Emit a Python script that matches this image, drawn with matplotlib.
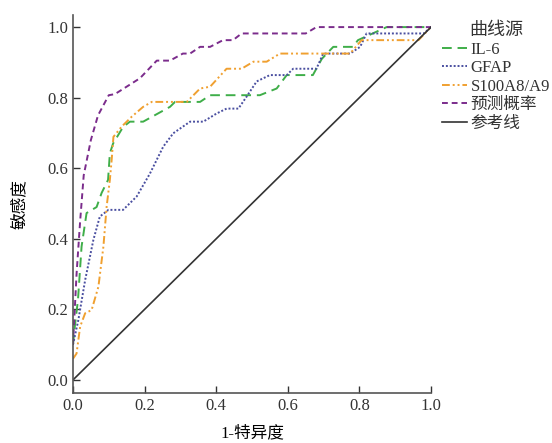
import matplotlib
matplotlib.use("Agg")
import matplotlib.pyplot as plt

plt.rcParams['font.family'] = ['Liberation Serif', 'Noto Sans CJK SC']

# ROC curves
il6_x = [0, 0.005, 0.014, 0.024, 0.038, 0.066, 0.08, 0.098, 0.103, 0.112, 0.14, 0.159, 0.196,
         0.271, 0.285, 0.355, 0.383, 0.522, 0.569, 0.597, 0.67, 0.695, 0.727, 0.782, 0.796,
         0.876, 1.0]
il6_y = [0.1, 0.15, 0.227, 0.378, 0.473, 0.49, 0.53, 0.567, 0.642, 0.67, 0.717, 0.732, 0.732,
         0.774, 0.788, 0.788, 0.807, 0.807, 0.826, 0.864, 0.864, 0.91, 0.944, 0.944, 0.963,
         1.0, 1.0]

gfap_x = [0, 0.015, 0.034, 0.057, 0.075, 0.099, 0.14, 0.178, 0.215, 0.252, 0.28, 0.327, 0.364,
          0.401, 0.429, 0.462, 0.485, 0.513, 0.55, 0.597, 0.615, 0.68, 0.699, 0.774, 0.802,
          0.82, 0.98, 1.0]
gfap_y = [0.1, 0.17, 0.283, 0.397, 0.463, 0.482, 0.482, 0.52, 0.585, 0.661, 0.699, 0.732, 0.732,
          0.755, 0.769, 0.769, 0.803, 0.846, 0.864, 0.864, 0.882, 0.882, 0.925, 0.925, 0.944,
          0.982, 0.982, 1.0]

s100_x = [0, 0.01, 0.02, 0.034, 0.052, 0.071, 0.085, 0.094, 0.103, 0.108, 0.113, 0.136, 0.164,
          0.196, 0.22, 0.318, 0.355, 0.383, 0.429, 0.471, 0.504, 0.541, 0.578, 0.774, 0.806,
          0.965, 1.0]
s100_y = [0.06, 0.075, 0.151, 0.189, 0.198, 0.264, 0.378, 0.491, 0.567, 0.623, 0.689, 0.718, 0.746,
          0.774, 0.788, 0.788, 0.826, 0.831, 0.882, 0.882, 0.902, 0.902, 0.925, 0.925, 0.963,
          0.963, 1.0]

pred_x = [0, 0.005, 0.01, 0.02, 0.03, 0.05, 0.07, 0.1, 0.117, 0.187, 0.234, 0.271, 0.307, 0.327,
          0.355, 0.383, 0.419, 0.447, 0.471, 0.65, 0.68, 1.0]
pred_y = [0.1, 0.2, 0.3, 0.45, 0.58, 0.68, 0.75, 0.807, 0.81, 0.855, 0.905, 0.905, 0.925, 0.925,
          0.944, 0.944, 0.963, 0.963, 0.982, 0.982, 1.0, 1.0]

ref_x = [0, 1]
ref_y = [0, 1]

labels = ['IL-6', 'GFAP', 'S100A8/A9', '预测概率', '参考线']

fig = plt.figure(figsize=(5.52, 4.43), dpi=100)
ax = fig.add_axes([0.1322, 0.1129, 0.6486, 0.853])

ax.plot(il6_x, il6_y, color='#3fae49', lw=1.4, ls=(0, (5, 3)), label=labels[0])
ax.plot(gfap_x, gfap_y, color='#4a4fa0', lw=1.4, ls=(0, (1, 1)), label=labels[1])
ax.plot(s100_x, s100_y, color='#f0a030', lw=1.4, ls=(0, (4, 1.5, 1, 1.5, 1, 1.5)), label=labels[2])
ax.plot(pred_x, pred_y, color='#7b2c8c', lw=1.4, ls=(0, (3, 2)), label=labels[3])
ax.plot(ref_x, ref_y, color='#333333', lw=1.2, label=labels[4])

ax.set_xlim(0, 1)
ax.set_ylim(-0.037, 1.034)
ax.set_xticks([0, 0.2, 0.4, 0.6, 0.8, 1.0])
ax.set_yticks([0, 0.2, 0.4, 0.6, 0.8, 1.0])
ax.set_xticklabels(['0.0', '0.2', '0.4', '0.6', '0.8', '1.0'])
ax.set_yticklabels(['0.0', '0.2', '0.4', '0.6', '0.8', '1.0'])
ax.tick_params(direction='in', length=5, width=1, labelsize=12, colors='#333333')
ax.spines['top'].set_visible(False)
ax.spines['right'].set_visible(False)
for s in ['left', 'bottom']:
    ax.spines[s].set_color('#555555')
    ax.spines[s].set_linewidth(1.2)

ax.set_xlabel('1-特异度', fontsize=12, labelpad=8)
ax.set_ylabel('敏感度', fontsize=12, labelpad=14)

leg = fig.legend(loc='upper left', bbox_to_anchor=(0.80, 0.95), frameon=False,
                 title='曲线源', fontsize=12, title_fontsize=13, handlelength=1.5,
                 handletextpad=0.25, labelspacing=0.15, borderaxespad=0, borderpad=0)
for t in leg.get_texts():
    t.set_color('#333333')
leg.get_title().set_color('#333333')

fig.savefig('out.png', dpi=100)
